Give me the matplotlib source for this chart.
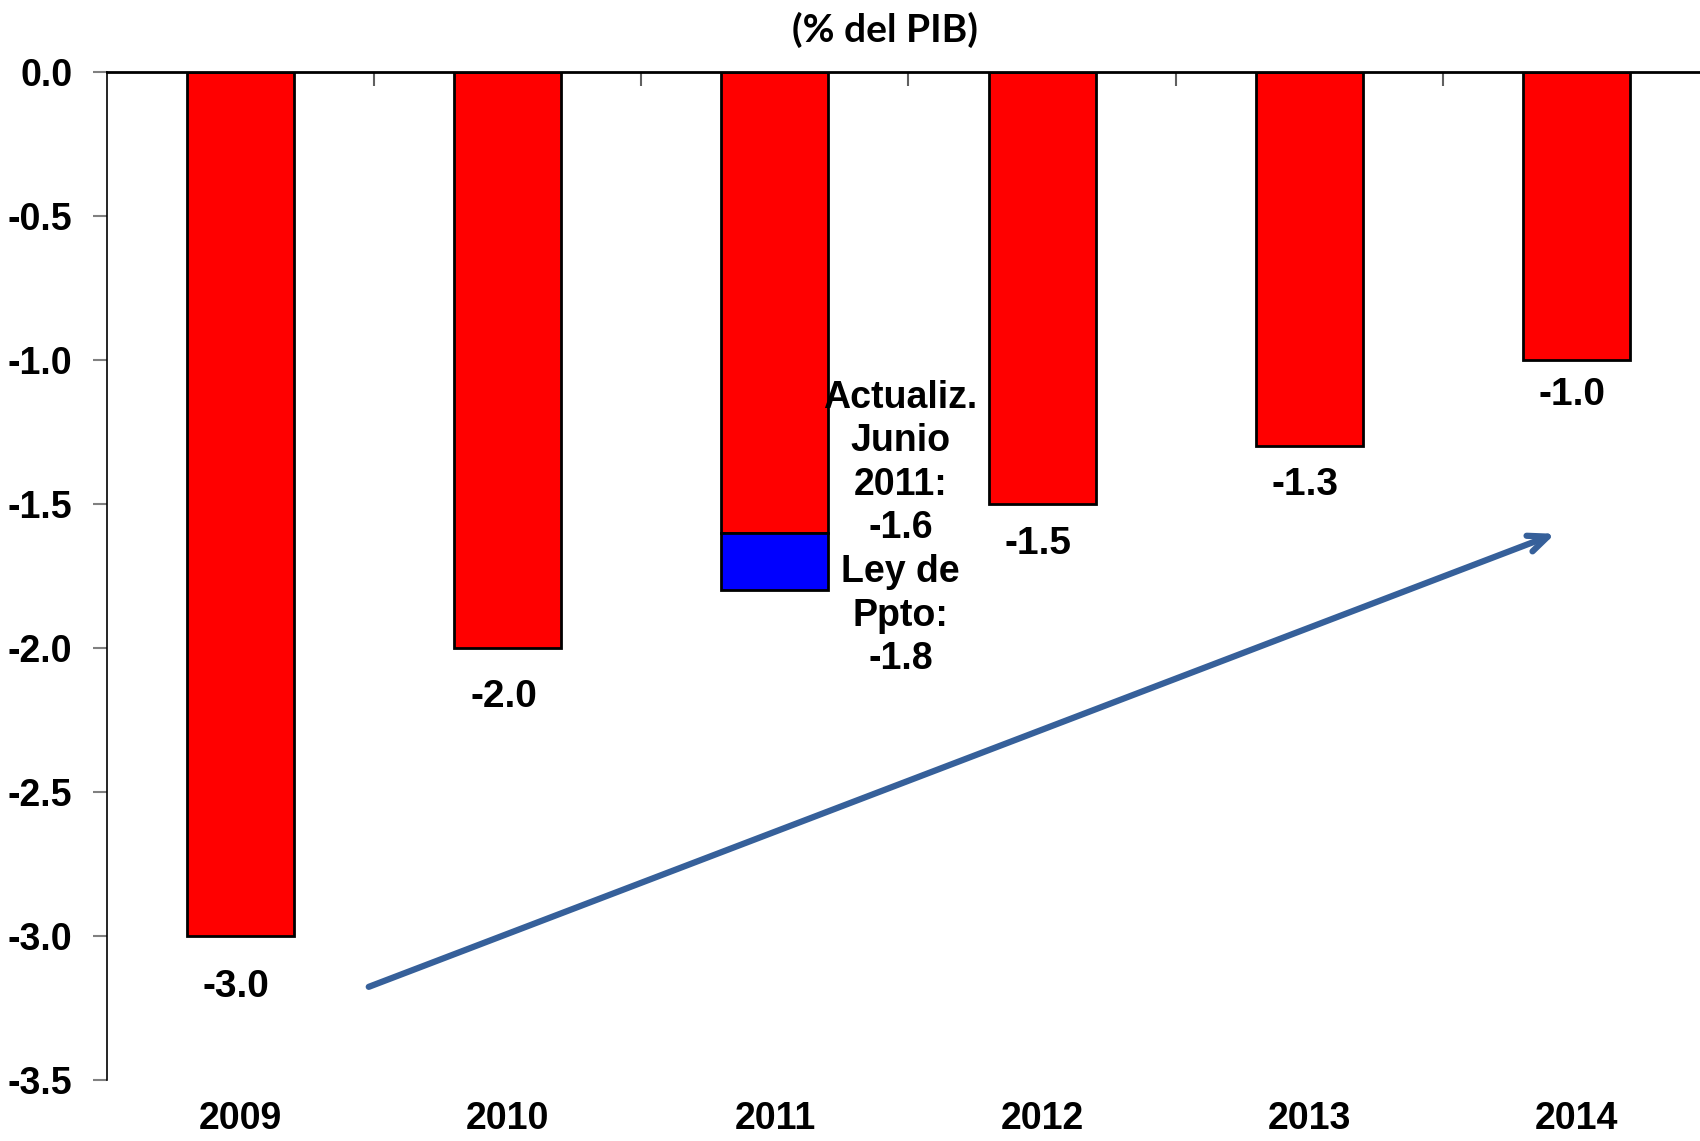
import matplotlib
matplotlib.use("Agg")
import matplotlib.pyplot as plt
import numpy as np

years = ["2009", "2010", "2011", "2012", "2013", "2014"]
deficit = [-3.0, -2.0, -1.6, -1.5, -1.3, -1.0]
ley_ppto_2011 = -1.8
yticks = [0.0, -0.5, -1.0, -1.5, -2.0, -2.5, -3.0, -3.5]
title = "(% del PIB)"
note_text = "Actualiz.\nJunio\n2011:\n-1.6\nLey de\nPpto:\n-1.8"
arrow_start = (0.47, -3.18)
arrow_end = (4.93, -1.60)
label_drop_px = [51, 49, 0, 40, 39, 35]

plt.rcParams['font.family'] = ['Liberation Sans', 'DejaVu Sans']

fig = plt.figure(figsize=(17, 11.41), dpi=100)
W, H = 1700, 1141
left, right = 107, 1710
top, bottom = 72, 1080
ax = fig.add_axes([left / W, 1 - bottom / H, (right - left) / W, (bottom - top) / H])

x = np.arange(len(years))
ax.bar(x, deficit, width=0.4, color="#FF0000", edgecolor="black", linewidth=2, zorder=3)
extra = ley_ppto_2011 - deficit[2]
ax.bar([x[2]], [extra], bottom=[deficit[2]], width=0.4, color="#0000FF",
       edgecolor="black", linewidth=2, zorder=3)

for i, v in enumerate(deficit):
    if i == 2:
        continue
    ax.annotate(f"{v:.1f}", xy=(x[i], v), xytext=(-3, -label_drop_px[i] * 0.72),
                textcoords="offset points", ha="center", va="center",
                fontsize=28, fontweight="bold")

ax.text(x[2] + 0.47, -1.585, note_text, ha="center", va="center", fontsize=27,
        fontweight="bold", linespacing=1.27)

ax.annotate("", xy=arrow_end, xytext=arrow_start,
            arrowprops=dict(arrowstyle="->,head_length=1.4,head_width=0.6",
                            color="#36609A", lw=4.5, capstyle="round",
                            joinstyle="round"), zorder=4)

ax.set_xlim(-0.5, len(years) - 0.5)
ax.set_ylim(-3.5, 0)
ax.set_yticks(yticks)
ax.set_yticklabels([f"{t:.1f}" for t in yticks], fontsize=27, fontweight="bold")
ax.tick_params(axis="y", direction="out", length=10, width=1.5, color="#808080", pad=15)

ax.set_xticks(x)
ax.set_xticklabels(years, fontsize=27, fontweight="bold")
ax.tick_params(axis="x", which="major", length=0, pad=15)
ax.set_xticks(np.arange(0.5, len(years) - 0.5, 1), minor=True)
ax.tick_params(axis="x", which="minor", top=True, bottom=False, direction="in",
               length=10, width=1.5, color="#606060")

for s in ["right", "bottom"]:
    ax.spines[s].set_visible(False)
ax.spines["top"].set_linewidth(2)
ax.spines["top"].set_zorder(5)
ax.spines["left"].set_linewidth(1.2)

fig.text(885 / W, 1 - 30 / H, title, ha="center", va="center", fontsize=28,
         fontweight="bold", family=["Lato", "DejaVu Sans"])

fig.savefig("out.png", dpi=100)
